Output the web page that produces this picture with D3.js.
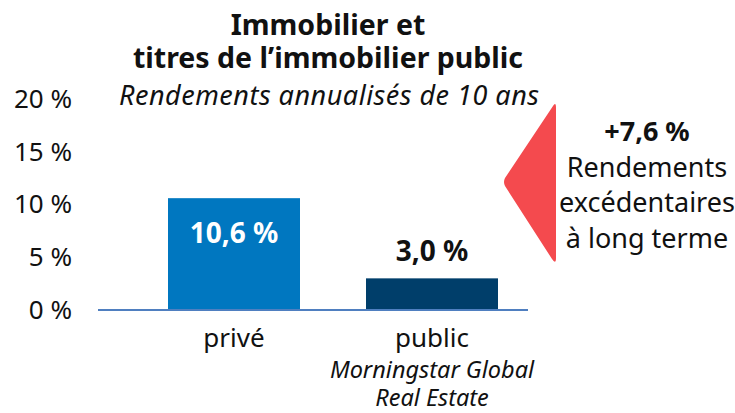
<!DOCTYPE html>
<html>
<head>
<meta charset="utf-8">
<script src="https://cdn.jsdelivr.net/npm/d3@7"></script>
<style>
  html, body { margin: 0; padding: 0; background: #fff; }
  svg text { font-family: "Noto Sans", sans-serif; fill: #111; }
</style>
</head>
<body>
<div id="chart"></div>
<script>
// data
var categories = ["privé", "public"];
var values = [10.6, 3.0];
var valueLabels = ["10,6 %", "3,0 %"];
var yTicks = [0, 5, 10, 15, 20];
var titleLines = ["Immobilier et", "titres de l\u2019immobilier public"];
var subtitle = "Rendements annualisés de 10 ans";
var subLabels = [[], ["Morningstar Global", "Real Estate"]];
var noteLines = ["+7,6 %", "Rendements", "excédentaires", "à long terme"];

var width = 735, height = 413;
var barColors = ["#0077c0", "#003e6a"];

var svg = d3.select("#chart").append("svg").attr("width", width).attr("height", height);

var x = d3.scaleBand().domain(categories).range([135, 531]).paddingInner(1 / 3).paddingOuter(1 / 6);
var y = d3.scaleLinear().domain([0, 20]).range([310, 99]);

// title, one text block with two lines
var title = svg.append("text")
   .attr("text-anchor", "middle")
   .style("font-size", "28.5px").style("font-weight", "bold");
title.selectAll("tspan")
   .data(titleLines).enter().append("tspan")
   .attr("x", 328)
   .attr("y", function(d, i){ return 35 + i * 33; })
   .text(function(d){ return d; });

svg.append("text")
   .attr("x", 329).attr("y", 105)
   .attr("text-anchor", "middle")
   .attr("textLength", 420).attr("lengthAdjust", "spacing")
   .style("font-size", "27px").style("font-style", "italic")
   .text(subtitle);

// y axis (labels only)
var yAxis = d3.axisLeft(y).tickValues(yTicks).tickSize(0).tickPadding(0)
              .tickFormat(function(d){ return d + " %"; });
var gy = svg.append("g").attr("transform", "translate(72,0)").call(yAxis);
gy.select(".domain").remove();
gy.selectAll("text").style("font-size", "26px").style("font-family", "'Noto Sans', sans-serif").attr("fill", "#111");

// bars
svg.selectAll("rect.bar")
   .data(values).enter().append("rect")
   .attr("class", "bar")
   .attr("x", function(d, i){ return x(categories[i]); })
   .attr("y", function(d){ return y(d); })
   .attr("width", x.bandwidth())
   .attr("height", function(d){ return y(0) - y(d); })
   .attr("fill", function(d, i){ return barColors[i]; });

// baseline
svg.append("line")
   .attr("x1", 98).attr("x2", 528)
   .attr("y1", y(0)).attr("y2", y(0))
   .attr("stroke", "#4f7fc0").attr("stroke-width", 2);

// value labels
svg.selectAll("text.val")
   .data(values).enter().append("text")
   .attr("class", "val")
   .attr("x", function(d, i){ return x(categories[i]) + x.bandwidth() / 2; })
   .attr("y", function(d, i){ return i === 0 ? y(d) + 45 : y(d) - 17; })
   .attr("text-anchor", "middle")
   .style("font-size", "28px").style("font-weight", "bold")
   .style("fill", function(d, i){ return i === 0 ? "#fff" : "#111"; })
   .text(function(d, i){ return valueLabels[i]; });

// category labels
svg.selectAll("text.cat")
   .data(categories).enter().append("text")
   .attr("class", "cat")
   .attr("x", function(d){ return x(d) + x.bandwidth() / 2; })
   .attr("y", 347)
   .attr("text-anchor", "middle")
   .style("font-size", "26px")
   .text(function(d){ return d; });

subLabels.forEach(function(lines, i){
    var t = svg.append("text")
       .attr("text-anchor", "middle")
       .style("font-size", "23.5px").style("font-style", "italic");
    t.selectAll("tspan")
       .data(lines).enter().append("tspan")
       .attr("x", x(categories[i]) + x.bandwidth() / 2)
       .attr("y", function(d, j){ return 378 + j * 28; })
       .text(function(d){ return d; });
});

// red arrow
svg.append("path")
   .attr("d", "M553,106 Q556,101 556,108 L556,258 Q556,265 552,259 L505,186 Q503,182 505,178 Z")
   .attr("fill", "#f44a4e");

// note text
svg.selectAll("text.note")
   .data(noteLines).enter().append("text")
   .attr("class", "note")
   .attr("x", 647)
   .attr("y", function(d, i){ return 141 + i * 35.5; })
   .attr("text-anchor", "middle")
   .style("font-size", "27px")
   .style("font-weight", function(d, i){ return i === 0 ? "bold" : "normal"; })
   .text(function(d){ return d; });
</script>
</body>
</html>
